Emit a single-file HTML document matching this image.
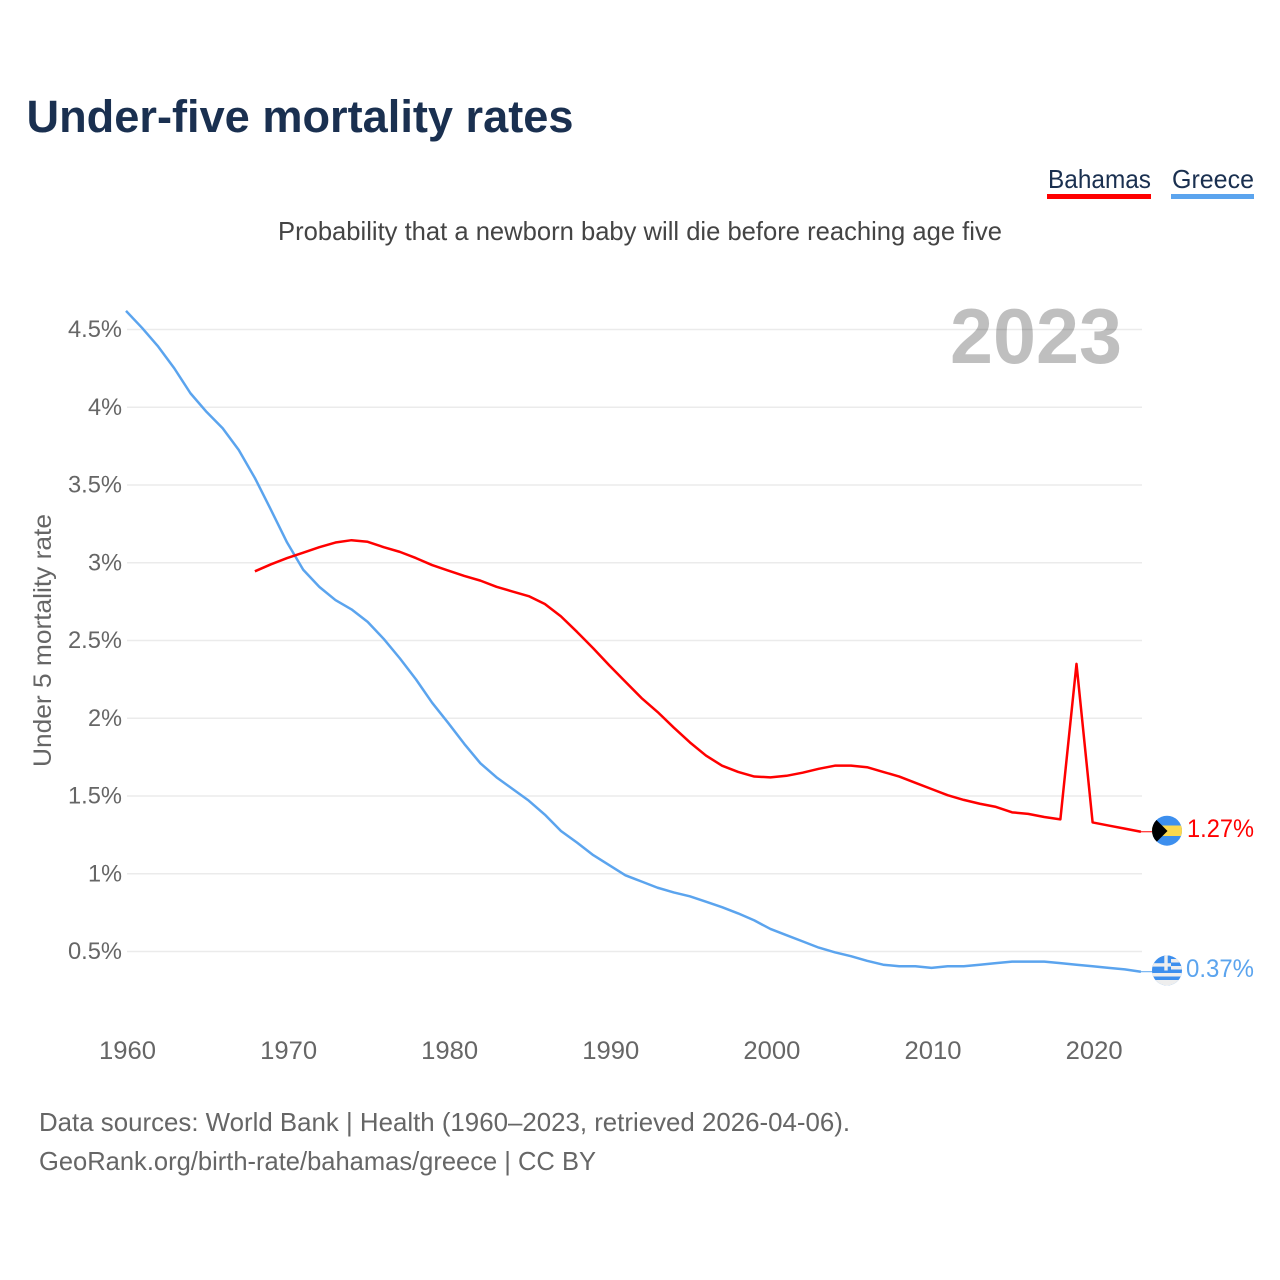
<!DOCTYPE html>
<html lang="en">
<head>
<meta charset="utf-8">
<title>Under-five mortality rates</title>
<style>
html,body{margin:0;padding:0;background:#fff;width:1280px;height:1280px;overflow:hidden}
svg{display:block}
text{font-family:"Liberation Sans",sans-serif}
</style>
</head>
<body>
<svg id="chart" xmlns="http://www.w3.org/2000/svg" width="1280" height="1280" viewBox="0 0 1280 1280">
  <defs>
    <clipPath id="clip-bs"><circle cx="1167" cy="830.7" r="15"/></clipPath>
    <clipPath id="clip-gr"><circle cx="1167" cy="970.5" r="15"/></clipPath>
  </defs>
  <text x="26.5" y="132" font-size="45" font-weight="700" fill="#1a3050" textLength="547" lengthAdjust="spacingAndGlyphs">Under-five mortality rates</text>

  <g>
    <g>
      <text x="1048" y="188" font-size="26" fill="#1a3050" textLength="103" lengthAdjust="spacingAndGlyphs">Bahamas</text>
      <rect x="1047" y="194" width="104" height="5" fill="#ff0000"/>
    </g>
    <g>
      <text x="1172" y="188" font-size="26" fill="#1a3050" textLength="82" lengthAdjust="spacingAndGlyphs">Greece</text>
      <rect x="1171" y="194" width="83" height="5" fill="#5ba4ee"/>
    </g>
  </g>

  <text x="278" y="240" font-size="26" fill="#444" textLength="724" lengthAdjust="spacingAndGlyphs">Probability that a newborn baby will die before reaching age five</text>

  <g id="grid"></g>
  <g id="yticks"></g>
  <g id="xticks"></g>

  <text transform="translate(51,767) rotate(-90)" x="0" y="0" font-size="25" fill="#666" textLength="253" lengthAdjust="spacingAndGlyphs">Under 5 mortality rate</text>

  <text x="950" y="363" font-size="78" font-weight="700" fill="#000" fill-opacity="0.25" textLength="172" lengthAdjust="spacingAndGlyphs">2023</text>

  <g id="series"></g>

  <g clip-path="url(#clip-bs)">
    <rect x="1151" y="815" width="32" height="32" fill="#3d8fee"/>
    <rect x="1151" y="825.5" width="32" height="10.5" fill="#fbd84e"/>
    <polygon points="1151,814.5 1167.5,831 1151,847.5" fill="#000"/>
  </g>
  <g clip-path="url(#clip-gr)">
    <rect x="1151" y="955" width="32" height="32" fill="#3d8fee"/>
    <rect x="1151" y="959" width="32" height="3.5" fill="#eee"/>
    <rect x="1151" y="966" width="32" height="3.5" fill="#eee"/>
    <rect x="1151" y="973" width="32" height="3.5" fill="#eee"/>
    <rect x="1151" y="980" width="32" height="7" fill="#eee"/>
    <rect x="1151" y="955" width="20" height="15.5" fill="#3d8fee"/>
    <rect x="1151" y="963.2" width="20" height="3.4" fill="#eee"/>
    <rect x="1164.3" y="955" width="3.4" height="15.5" fill="#eee"/>
  </g>

  <text id="label-bs" x="1254" y="837" font-size="25" fill="#ff0000" text-anchor="end" textLength="67" lengthAdjust="spacingAndGlyphs">1.27%</text>
  <text id="label-gr" x="1254" y="977" font-size="25" fill="#5ba4ee" text-anchor="end" textLength="68" lengthAdjust="spacingAndGlyphs">0.37%</text>

  <text x="39" y="1131" font-size="26" fill="#666" textLength="811" lengthAdjust="spacingAndGlyphs">Data sources: World Bank | Health (1960–2023, retrieved 2026-04-06).</text>
  <text x="39" y="1170" font-size="26" fill="#666" textLength="557" lengthAdjust="spacingAndGlyphs">GeoRank.org/birth-rate/bahamas/greece | CC BY</text>
</svg>
<script>
const yTickValues = [0.5, 1, 1.5, 2, 2.5, 3, 3.5, 4, 4.5];
const yTickLabels = ['0.5%', '1%', '1.5%', '2%', '2.5%', '3%', '3.5%', '4%', '4.5%'];
const xTickYears = [1960, 1970, 1980, 1990, 2000, 2010, 2020];
const xTickLabels = ['1960', '1970', '1980', '1990', '2000', '2010', '2020'];
const greeceStartYear = 1960;
const greeceValues = [4.62, 4.51, 4.39, 4.25, 4.09, 3.97, 3.865, 3.725, 3.545, 3.34,
  3.13, 2.955, 2.845, 2.76, 2.70, 2.62, 2.51, 2.385, 2.25, 2.10,
  1.97, 1.835, 1.71, 1.62, 1.545, 1.47, 1.38, 1.275, 1.20, 1.12,
  1.055, 0.99, 0.95, 0.91, 0.88, 0.855, 0.82, 0.785, 0.745, 0.70,
  0.645, 0.605, 0.565, 0.525, 0.495, 0.47, 0.44, 0.415, 0.405, 0.405,
  0.395, 0.405, 0.405, 0.415, 0.425, 0.435, 0.435, 0.435, 0.425, 0.415,
  0.405, 0.395, 0.385, 0.37];
const bahamasStartYear = 1968;
const bahamasValues = [2.945, 2.99, 3.03, 3.065, 3.10, 3.13, 3.145, 3.135, 3.10, 3.07,
  3.03, 2.985, 2.95, 2.915, 2.885, 2.845, 2.815, 2.785, 2.735, 2.655,
  2.555, 2.45, 2.34, 2.235, 2.13, 2.04, 1.94, 1.845, 1.76, 1.695,
  1.655, 1.625, 1.62, 1.63, 1.65, 1.675, 1.695, 1.695, 1.685, 1.655,
  1.625, 1.585, 1.545, 1.505, 1.475, 1.45, 1.43, 1.395, 1.385, 1.365,
  1.35, 2.35, 1.33, 1.31, 1.29, 1.27];

const NS = 'http://www.w3.org/2000/svg';
function xScale(year) { return 126 + (year - 1960) * 16.11; }
function yScale(value) { return 1029.25 - value * 155.5; }
function make(tag, attrs, parent) {
  const el = document.createElementNS(NS, tag);
  for (const k in attrs) el.setAttribute(k, attrs[k]);
  parent.appendChild(el);
  return el;
}
const gridG = document.getElementById('grid');
const yG = document.getElementById('yticks');
const xG = document.getElementById('xticks');
const seriesG = document.getElementById('series');

yTickValues.forEach(function (v, i) {
  const line = make('line', {x1: 127, x2: 1142, y1: yScale(v), y2: yScale(v), stroke: '#ebebeb', 'stroke-width': 1.5}, gridG);
  
  
  const label = yTickLabels[i];
  const t = make('text', {x: 122, y: yScale(v) + 7.5, 'font-size': 24.5, fill: '#666', 'text-anchor': 'end',
    textLength: label.length === 2 ? 34 : 54, lengthAdjust: 'spacingAndGlyphs'}, yG);
  
  
  t.textContent = label;
});

xTickYears.forEach(function (yr, i) {
  const t = make('text', {x: xScale(yr) + 1.5, y: 1059, 'font-size': 25, fill: '#666', 'text-anchor': 'middle',
    textLength: 57, lengthAdjust: 'spacingAndGlyphs'}, xG);
  
  
  t.textContent = xTickLabels[i];
});

function pathFrom(values, startYear) {
  return values.map(function (v, i) {
    return (i ? 'L' : 'M') + xScale(startYear + i).toFixed(2) + ' ' + yScale(v).toFixed(2);
  }).join(' ');
}

const greeceLine = make('path', {d: pathFrom(greeceValues, greeceStartYear), fill: 'none', stroke: '#5ba4ee', 'stroke-width': 2.5, 'stroke-linejoin': 'round'}, seriesG);



const bahamasLine = make('path', {d: pathFrom(bahamasValues, bahamasStartYear), fill: 'none', stroke: '#ff0000', 'stroke-width': 2.5, 'stroke-linejoin': 'round'}, seriesG);



const greeceLast = greeceValues[greeceValues.length - 1];
const bahamasLast = bahamasValues[bahamasValues.length - 1];
const leaderG = make('line', {x1: xScale(2023), x2: 1153, y1: yScale(greeceLast), y2: yScale(greeceLast), stroke: '#5ba4ee', 'stroke-width': 1}, seriesG);


const leaderB = make('line', {x1: xScale(2023), x2: 1153, y1: yScale(bahamasLast), y2: yScale(bahamasLast), stroke: '#ff0000', 'stroke-width': 1}, seriesG);


</script>
</body>
</html>
